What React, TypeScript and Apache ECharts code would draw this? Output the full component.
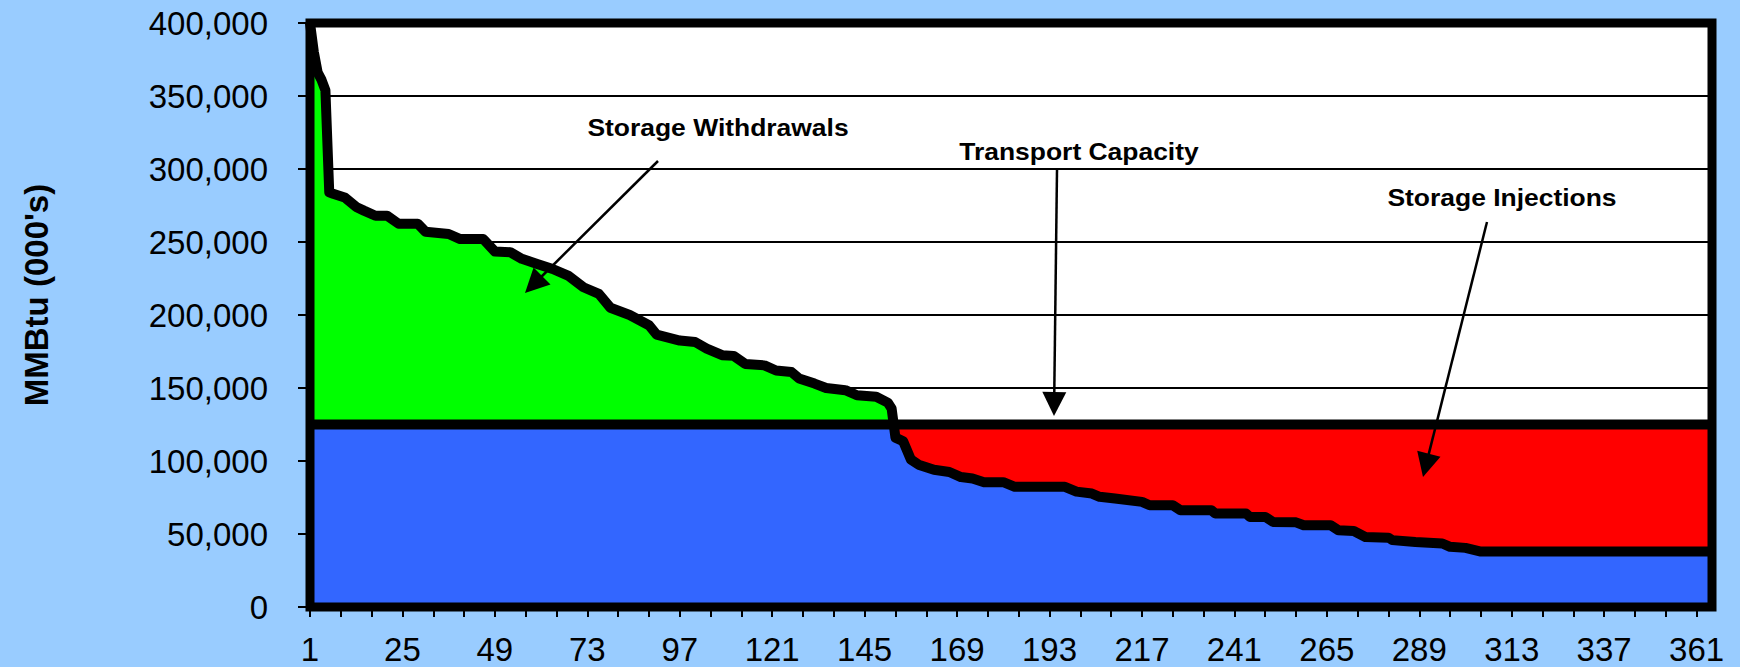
import React, { useEffect, useRef } from "react";
import * as echarts from "echarts";

// ---- data ----
const DAY_LABELS: string[] = Array.from({ length: 365 }, (_, i) => String(i + 1));

// Daily demand duration curve (break points: day number, MMBtu 000's)
const DEMAND_DAYS = [
  1, 2, 3, 4, 5, 6, 7, 10, 13, 15, 18, 21, 24, 29, 31, 37, 40, 46, 49, 53, 56, 60, 64, 68, 72, 76, 79,
  84, 89, 91, 97, 101, 104, 108, 111, 114, 119, 122, 126, 128, 132, 135, 140, 143, 148, 151, 152,
  153, 155, 157, 159, 163, 167, 170, 173, 176, 181, 184, 197, 200, 204, 206, 210, 217, 219, 225, 227,
  235, 236, 244, 245, 249, 251, 257, 259, 266, 268, 272, 275, 281, 282, 288, 295, 297, 301, 305, 365,
];
const DEMAND_VALUES = [
  400000, 380000, 366000, 361000, 354000, 284000, 283000, 280500, 274000, 271500, 268000, 268000,
  262500, 262500, 257000, 255500, 252000, 252000, 243500, 243000, 238500, 235000, 231500, 227000,
  219000, 214500, 205000, 200000, 193000, 186500, 182500, 181500, 177000, 172500, 172000, 166500,
  165500, 162000, 161000, 156500, 153000, 150000, 148500, 145000, 144000, 140000, 136000, 116000,
  113500, 101000, 97500, 94000, 92500, 89000, 88000, 85500, 85500, 82300, 82300, 79000, 77700,
  75500, 74300, 72000, 69700, 69700, 66300, 66300, 64100, 64100, 61700, 61700, 58300, 58000, 56000,
  56000, 52600, 52000, 48000, 47500, 45800, 44500, 43500, 41200, 40500, 38000, 38000,
];

const TRANSPORT_CAPACITY = 125000;

const Y_MIN = 0;
const Y_MAX = 400000;
const Y_STEP = 50000;

const Y_TITLE = "MMBtu (000's)";
const ANNOTATION_TEXTS = ["Storage Withdrawals", "Transport Capacity", "Storage Injections"];

// ---- layout / styles ----
const GRID = { left: 310, top: 23, width: 1402, height: 584 };
const LABEL_FONT = '"Liberation Sans", Arial, sans-serif';

function arrow(x1: number, y1: number, x2: number, y2: number, headLen = 24, headW = 24) {
  const dx = x2 - x1;
  const dy = y2 - y1;
  const len = Math.sqrt(dx * dx + dy * dy);
  const ux = dx / len;
  const uy = dy / len;
  const bx = x2 - ux * headLen;
  const by = y2 - uy * headLen;
  const px = -uy * (headW / 2);
  const py = ux * (headW / 2);
  return [
    {
      type: "line",
      z: 120,
      shape: { x1, y1, x2: bx + ux * 2, y2: by + uy * 2 },
      style: { stroke: "#000", lineWidth: 2.5 },
      silent: true,
    },
    {
      type: "polygon",
      z: 120,
      shape: {
        points: [
          [x2, y2],
          [bx + px, by + py],
          [bx - px, by - py],
        ],
      },
      style: { fill: "#000" },
      silent: true,
    },
  ];
}

function annotation(text: string, x: number, y: number) {
  return {
    type: "text",
    z: 120,
    x,
    y,
    scaleX: 1.15,
    silent: true,
    style: {
      text,
      fill: "#000",
      font: `bold 23px ${LABEL_FONT}`,
      align: "center",
      verticalAlign: "middle",
    },
  };
}

export default function App() {
  const ref = useRef<HTMLDivElement>(null);

  useEffect(() => {
    if (!ref.current) return;
    const chart = echarts.init(ref.current, null, { renderer: "svg" });

    const curve: number[][] = DEMAND_DAYS.map((d, i) => [d - 1, DEMAND_VALUES[i]]);
    const cap = TRANSPORT_CAPACITY;
    const k = curve.findIndex((p) => p[1] < cap);
    const [xa, va] = curve[k - 1];
    const [xb, vb] = curve[k];
    const xc = xa + ((va - cap) / (va - vb)) * (xb - xa);
    const withdrawals = [...curve.slice(0, k), [xc, cap]];
    const injections = [[xc, cap], ...curve.slice(k)];
    const lastIdx = DAY_LABELS.length - 1;

    const option: any = {
      animation: false,
      backgroundColor: "#99CCFF",
      grid: {
        left: GRID.left,
        top: GRID.top,
        width: GRID.width,
        height: GRID.height,
        show: true,
        backgroundColor: "#FFFFFF",
        borderWidth: 0,
      },
      xAxis: {
        type: "category",
        data: DAY_LABELS,
        boundaryGap: false,
        axisLine: { show: false },
        axisTick: { show: true, interval: 7, length: 10, lineStyle: { color: "#000", width: 2 } },
        axisLabel: {
          interval: 23,
          margin: 26,
          color: "#000",
          fontSize: 33,
          fontFamily: LABEL_FONT,
        },
        splitLine: { show: false },
      },
      yAxis: {
        type: "value",
        min: Y_MIN,
        max: Y_MAX,
        interval: Y_STEP,
        axisLine: { show: false },
        axisTick: { show: true, length: 12, lineStyle: { color: "#000", width: 2 } },
        axisLabel: {
          margin: 42,
          color: "#000",
          fontSize: 33,
          fontFamily: LABEL_FONT,
          formatter: (v: number) => v.toLocaleString("en-US"),
        },
        splitLine: { show: true, lineStyle: { color: "#000", width: 2 } },
      },
      series: [
        {
          name: "Demand area",
          type: "line",
          data: curve,
          symbol: "none",
          silent: true,
          z: 2,
          lineStyle: { width: 0, opacity: 0 },
          areaStyle: { color: "#3366FF", opacity: 1, origin: "start" },
        },
        {
          name: "Storage Withdrawals",
          type: "line",
          data: withdrawals,
          symbol: "none",
          silent: true,
          z: 3,
          lineStyle: { width: 0, opacity: 0 },
          areaStyle: { color: "#00FF00", opacity: 1, origin: cap },
        },
        {
          name: "Storage Injections",
          type: "line",
          data: injections,
          symbol: "none",
          silent: true,
          z: 3,
          lineStyle: { width: 0, opacity: 0 },
          areaStyle: { color: "#FF0000", opacity: 1, origin: cap },
        },
        {
          name: "Transport Capacity",
          type: "line",
          data: [
            [0, cap],
            [lastIdx, cap],
          ],
          symbol: "none",
          silent: true,
          z: 4,
          lineStyle: { color: "#000", width: 10, cap: "butt" },
        },
        {
          name: "Demand",
          type: "line",
          data: curve,
          symbol: "none",
          silent: true,
          z: 5,
          lineStyle: { color: "#000", width: 10, join: "round", cap: "butt" },
        },
      ],
      graphic: [
        {
          type: "rect",
          z: 100,
          silent: true,
          shape: { x: GRID.left, y: GRID.top, width: GRID.width, height: GRID.height },
          style: { fill: "none", stroke: "#000", lineWidth: 9 },
        },
        {
          type: "text",
          z: 120,
          x: 36,
          y: 295,
          rotation: Math.PI / 2,
          silent: true,
          style: {
            text: Y_TITLE,
            fill: "#000",
            font: `bold 33px ${LABEL_FONT}`,
            align: "center",
            verticalAlign: "middle",
          },
        },
        annotation(ANNOTATION_TEXTS[0], 718, 128),
        annotation(ANNOTATION_TEXTS[1], 1079, 152),
        annotation(ANNOTATION_TEXTS[2], 1502, 198),
        ...arrow(658, 161, 525, 293),
        ...arrow(1057, 170, 1054, 416),
        ...arrow(1487, 222, 1423, 477),
      ],
    };

    chart.setOption(option);
    return () => {
      chart.dispose();
    };
  }, []);

  return (
    <div
      ref={ref}
      style={{ position: "absolute", left: 0, top: 0, width: 1740, height: 667 }}
    />
  );
}
